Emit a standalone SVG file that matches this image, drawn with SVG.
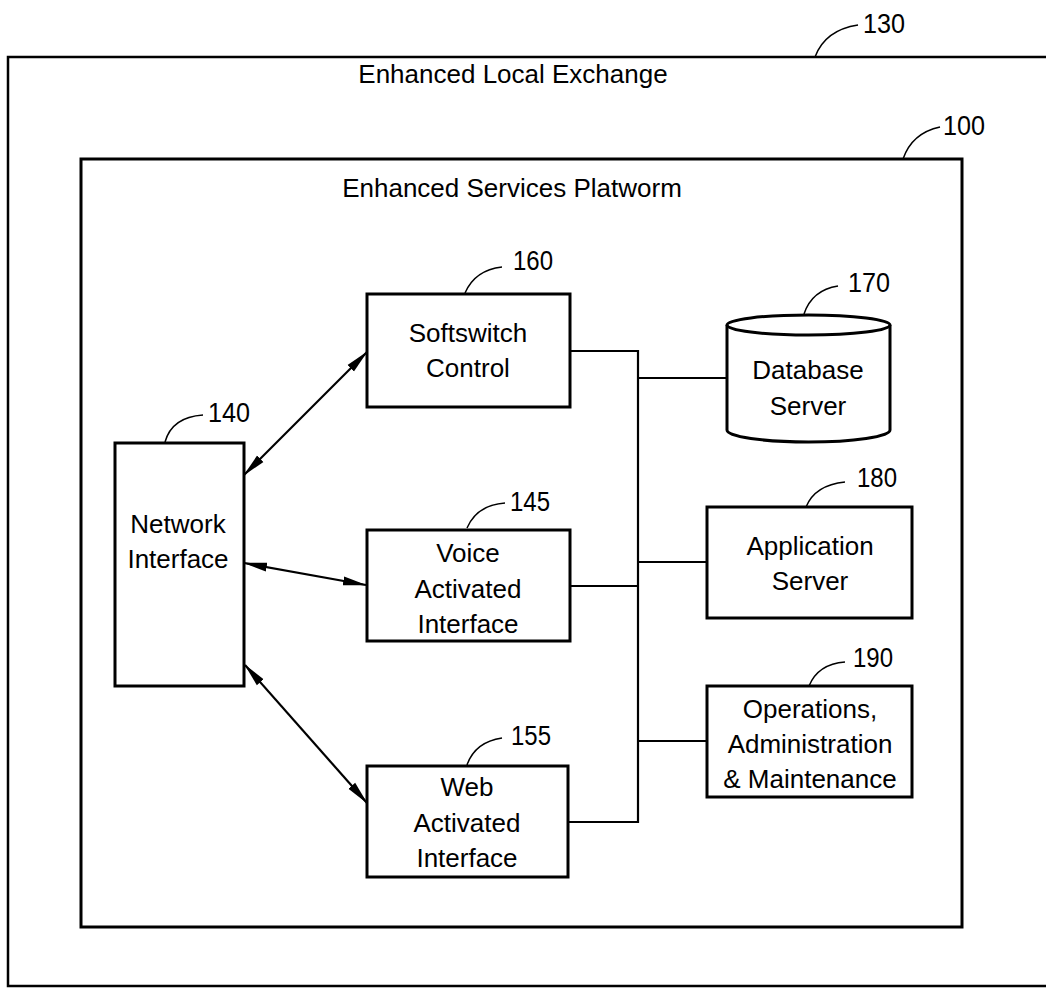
<svg xmlns="http://www.w3.org/2000/svg" width="1046" height="989" viewBox="0 0 1046 989">
<style>
.frame{fill:none;stroke:#000;stroke-width:2.5}
.box{fill:#fff;stroke:#000;stroke-width:3}
.wire{fill:none;stroke:#000;stroke-width:2.2}
.arrow{fill:none;stroke:#000;stroke-width:2.2;marker-start:url(#ah);marker-end:url(#ah)}
.lead{fill:none;stroke:#000;stroke-width:1.5}
.t{font-family:"Liberation Sans",Arial,sans-serif;font-size:26px;fill:#000;text-anchor:middle}
.n{font-family:"Liberation Sans",Arial,sans-serif;font-size:28px;fill:#000}
</style>
<defs>
<marker id="ah" viewBox="0 0 24 10" markerWidth="24" markerHeight="10" refX="23" refY="5" orient="auto-start-reverse" markerUnits="userSpaceOnUse">
<path d="M0,0.5 L24,5 L0,9.5 Z" fill="#000"/>
</marker>
</defs>
<rect width="1046" height="989" fill="#fff"/>

<g id="exchange">
<rect class="frame" x="8" y="57" width="1100" height="929"/>
<text class="t" x="513" y="83">Enhanced Local Exchange</text>
<path class="lead" d="M815,57 Q825,30 858,25"/>
<text class="n" x="863" y="33" textLength="42" lengthAdjust="spacingAndGlyphs">130</text>
</g>

<g id="platform">
<rect class="frame" x="81" y="159" width="881" height="768" style="stroke-width:3"/>
<text class="t" x="512" y="197">Enhanced Services Platworm</text>
<path class="lead" d="M903,159 Q912,133 940,127"/>
<text class="n" x="943" y="135" textLength="42" lengthAdjust="spacingAndGlyphs">100</text>
</g>

<g id="connectors">
<line class="arrow" x1="244" y1="475" x2="367" y2="352"/>
<line class="arrow" x1="244" y1="563" x2="366" y2="585"/>
<line class="arrow" x1="245" y1="665" x2="367" y2="803"/>
<path class="wire" d="M570,351 H638 V822 H568"/>
<path class="wire" d="M638,378 H727"/>
<path class="wire" d="M570,586 H638"/>
<path class="wire" d="M638,562 H707"/>
<path class="wire" d="M638,741 H707"/>
</g>

<g id="network-interface">
<rect class="box" x="115" y="443" width="129" height="243"/>
<text class="t" x="178" y="533">Network</text>
<text class="t" x="178" y="568">Interface</text>
<path class="lead" d="M165,442 Q172,417 203,415"/>
<text class="n" x="208" y="422" textLength="42" lengthAdjust="spacingAndGlyphs">140</text>
</g>

<g id="softswitch">
<rect class="box" x="367" y="294" width="203" height="113"/>
<text class="t" x="468" y="342">Softswitch</text>
<text class="t" x="468" y="377">Control</text>
<path class="lead" d="M465,293 Q475,270 502,267"/>
<text class="n" x="513" y="270" textLength="40" lengthAdjust="spacingAndGlyphs">160</text>
</g>

<g id="voice">
<rect class="box" x="367" y="530" width="203" height="111"/>
<text class="t" x="468" y="562">Voice</text>
<text class="t" x="468" y="598">Activated</text>
<text class="t" x="468" y="633">Interface</text>
<path class="lead" d="M467,528 Q477,505 505,503"/>
<text class="n" x="510" y="511" textLength="40" lengthAdjust="spacingAndGlyphs">145</text>
</g>

<g id="web">
<rect class="box" x="367" y="766" width="201" height="111"/>
<text class="t" x="467" y="796">Web</text>
<text class="t" x="467" y="832">Activated</text>
<text class="t" x="467" y="867">Interface</text>
<path class="lead" d="M467,765 Q475,742 502,738"/>
<text class="n" x="511" y="745" textLength="40" lengthAdjust="spacingAndGlyphs">155</text>
</g>

<g id="database">
<path class="box" d="M727,325 A81.5,10 0 0 1 890,325 V430 A81.5,12 0 0 1 727,430 Z"/>
<path class="wire" style="stroke-width:3" d="M727,325 A81.5,10 0 0 0 890,325"/>
<text class="t" x="808" y="379">Database</text>
<text class="t" x="808" y="415">Server</text>
<path class="lead" d="M804,314 Q812,290 838,286"/>
<text class="n" x="848" y="292" textLength="42" lengthAdjust="spacingAndGlyphs">170</text>
</g>

<g id="application">
<rect class="box" x="707" y="507" width="205" height="111"/>
<text class="t" x="810" y="555">Application</text>
<text class="t" x="810" y="590">Server</text>
<path class="lead" d="M806,507 Q815,485 845,482"/>
<text class="n" x="857" y="487" textLength="40" lengthAdjust="spacingAndGlyphs">180</text>
</g>

<g id="oam">
<rect class="box" x="707" y="686" width="205" height="111"/>
<text class="t" x="810" y="718">Operations,</text>
<text class="t" x="810" y="753">Administration</text>
<text class="t" x="810" y="788">&amp; Maintenance</text>
<path class="lead" d="M809,686 Q818,664 845,662"/>
<text class="n" x="853" y="667" textLength="40" lengthAdjust="spacingAndGlyphs">190</text>
</g>
</svg>
